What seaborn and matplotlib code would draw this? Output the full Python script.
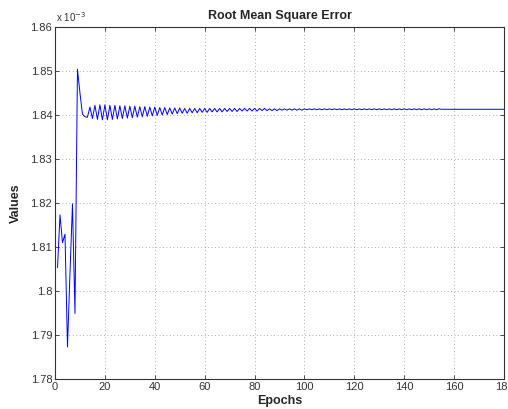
import matplotlib
matplotlib.use("Agg")
import matplotlib.pyplot as plt
import seaborn as sns
import pandas as pd

# RMSE values (in units of 1e-3), one per epoch
epochs = list(range(1, 181))
rmse_e3 = [
    1.8053, 1.8173, 1.8110, 1.8129, 1.7873, 1.8040, 1.8198, 1.7949, 1.8504, 1.8450,
    1.8402, 1.8396, 1.8395, 1.8418, 1.8392, 1.8422, 1.8390, 1.8423, 1.8389, 1.8423,
    1.8389, 1.8422, 1.8390, 1.8422, 1.8391, 1.8421, 1.8392, 1.8421, 1.8393, 1.8420,
    1.8394, 1.8420, 1.8395, 1.8419, 1.8396, 1.8419, 1.8397, 1.8418, 1.8398, 1.8418,
    1.8399, 1.8417, 1.8400, 1.8417, 1.8401, 1.8416, 1.8402, 1.8416, 1.8403, 1.8416,
    1.8404, 1.8415, 1.8404, 1.8415, 1.8405, 1.8415, 1.8405, 1.8415, 1.8406, 1.8415,
    1.8406, 1.8415, 1.8407, 1.8415, 1.8407, 1.8415, 1.8407, 1.8415, 1.8408, 1.8415,
    1.8408, 1.8415, 1.8408, 1.8415, 1.8409, 1.8415, 1.8409, 1.8415, 1.8409, 1.8415,
    1.8409, 1.8415, 1.8410, 1.8415, 1.8410, 1.8414, 1.8410, 1.8414, 1.8410, 1.8414,
    1.8411, 1.8414, 1.8411, 1.8414, 1.8411, 1.8414, 1.8411, 1.8414, 1.8411, 1.8414,
    1.8412, 1.8414, 1.8412, 1.8414, 1.8412, 1.8414, 1.8412, 1.8414, 1.8412, 1.8414,
    1.8412, 1.8414, 1.8412, 1.8414, 1.8412, 1.8414, 1.8412, 1.8414, 1.8412, 1.8414,
    1.8412, 1.8414, 1.8412, 1.8414, 1.8412, 1.8414, 1.8412, 1.8414, 1.8412, 1.8414,
    1.8412, 1.8414, 1.8412, 1.8414, 1.8412, 1.8414, 1.8412, 1.8414, 1.8412, 1.8414,
    1.8412, 1.8414, 1.8412, 1.8414, 1.8412, 1.8414, 1.8412, 1.8414, 1.8412, 1.8414,
    1.8412, 1.8414, 1.8412, 1.8414, 1.8413, 1.8413, 1.8413, 1.8413, 1.8413, 1.8413,
    1.8413, 1.8413, 1.8413, 1.8413, 1.8413, 1.8413, 1.8413, 1.8413, 1.8413, 1.8413,
    1.8413, 1.8413, 1.8413, 1.8413, 1.8413, 1.8413, 1.8413, 1.8413, 1.8413, 1.8413,
]
x_ticks = [0, 20, 40, 60, 80, 100, 120, 140, 160, 180]
y_ticks = [1.78, 1.79, 1.80, 1.81, 1.82, 1.83, 1.84, 1.85, 1.86]
y_tick_labels = ["1.78", "1.79", "1.8", "1.81", "1.82", "1.83", "1.84", "1.85", "1.86"]

title = "Root Mean Square Error"
xlabel = "Epochs"
ylabel = "Values"

df = pd.DataFrame({"Epochs": epochs, "Values": rmse_e3})

sns.set_theme(style="white")
plt.rcParams["font.family"] = ["Liberation Sans", "DejaVu Sans"]

fig = plt.figure(figsize=(5.08, 4.09), dpi=100)
ax = fig.add_axes([0.1083, 0.0733, 0.8837, 0.8607])

sns.lineplot(data=df, x="Epochs", y="Values", ax=ax, color="#0000ff",
             linewidth=0.7, legend=False)

ax.set_xlim(0, 180)
ax.set_ylim(1.78, 1.86)
ax.set_xticks(x_ticks)
ax.set_xticklabels([str(t) for t in x_ticks])
ax.set_yticks(y_ticks)
ax.set_yticklabels(y_tick_labels)

ax.grid(True, linestyle=(0, (1, 4)), color="#666666", linewidth=0.5)
for s in ax.spines.values():
    s.set_visible(True)
    s.set_color("#333333")
    s.set_linewidth(0.8)

ax.tick_params(axis="both", direction="in", length=3, width=0.6, colors="#333333",
               labelsize=8, labelcolor="#333333", top=True, right=True,
               bottom=True, left=True, pad=2)

ax.set_title(title, fontsize=9, fontweight="bold", pad=6)
ax.set_xlabel(xlabel, fontsize=9, fontweight="bold", labelpad=2)
ax.set_ylabel(ylabel, fontsize=9, fontweight="bold", labelpad=6)

fig.text(0.110, 0.945, r"x 10$^{-3}$", fontsize=7, color="#333333")

fig.savefig("out.png", dpi=100, facecolor="white")
